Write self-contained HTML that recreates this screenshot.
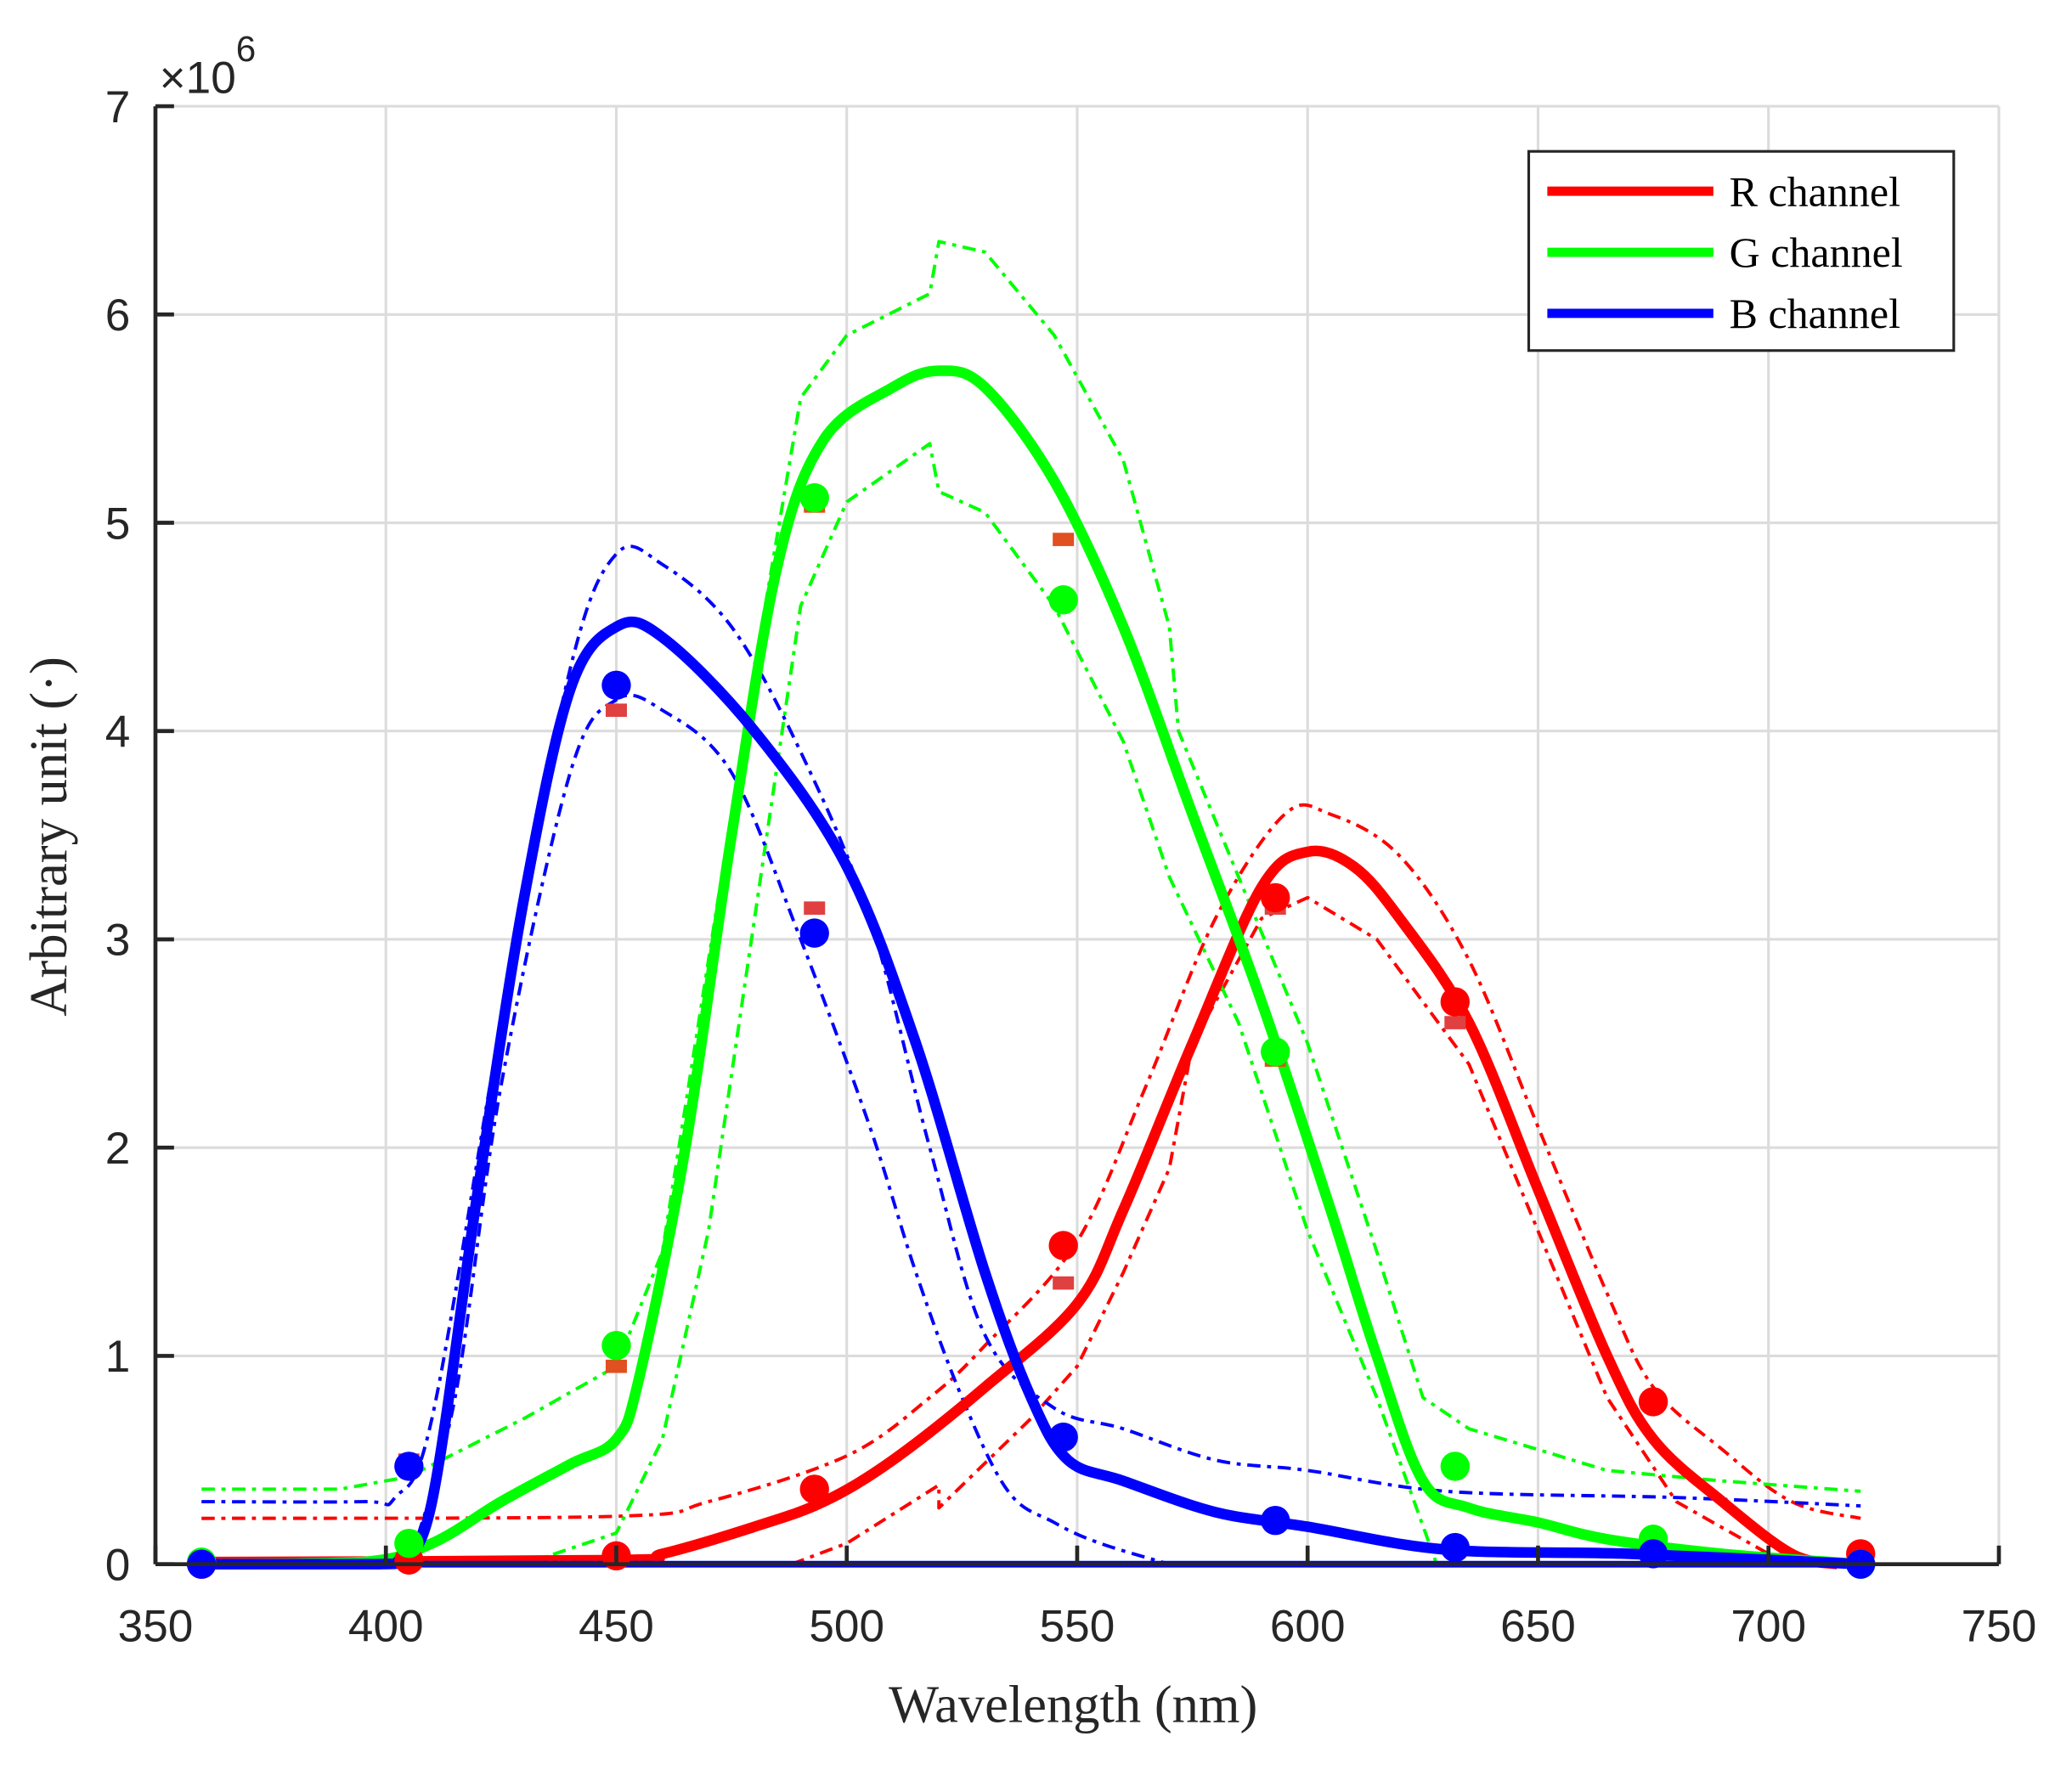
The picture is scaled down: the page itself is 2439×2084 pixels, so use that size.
<!DOCTYPE html>
<html><head><meta charset="utf-8"><style>
html,body{margin:0;padding:0;background:#fff}
svg{display:block}
</style></head><body>
<svg id="s" width="2439" height="2084" viewBox="0 0 1560 1333" xmlns="http://www.w3.org/2000/svg">
<rect width="1560" height="1333" fill="#fff"/>
<g id="grid" stroke="#dcdcdc" stroke-width="2"></g>
<g id="plot" fill="none" stroke-linejoin="round" stroke-linecap="butt"></g>
<g id="axes" stroke="#262626" stroke-width="3" fill="none">
<path d="M117,1178 H1505 M117,80 V1178"/>
</g>
<g id="ticks" stroke="#262626" stroke-width="3"></g>
<g id="labels" font-family="Liberation Sans, sans-serif" font-size="34" fill="#262626"></g>
<text x="120" y="70" font-family="Liberation Sans, sans-serif" font-size="34" fill="#262626">×10<tspan font-size="27" dy="-24">6</tspan></text>
<text x="808" y="1297" text-anchor="middle" font-family="Liberation Serif, serif" font-size="40" fill="#262626">Wavelength (nm)</text>
<text transform="translate(50,630) rotate(-90)" text-anchor="middle" font-family="Liberation Serif, serif" font-size="40" fill="#262626">Arbitrary unit (·)</text>
<g font-family="Liberation Serif, serif" font-size="32" fill="#000">
<rect x="1151" y="114" width="320" height="150" fill="#fff" stroke="#262626" stroke-width="2"/>
<path d="M1165,144 H1290" stroke="#f00" stroke-width="7"/>
<path d="M1165,190 H1290" stroke="#0f0" stroke-width="7"/>
<path d="M1165,236 H1290" stroke="#00f" stroke-width="7"/>
<text x="1302" y="155">R channel</text>
<text x="1302" y="201">G channel</text>
<text x="1302" y="247">B channel</text>
</g>
</svg>
<script>
const NS="http://www.w3.org/2000/svg";
const X=w=>117+(w-350)*3.47, Y=v=>1178-v*156.86;
function el(p,t,a){const e=document.createElementNS(NS,t);for(const k in a)e.setAttribute(k,a[k]);p.appendChild(e);return e;}
const grid=document.getElementById('grid'),ticks=document.getElementById('ticks'),labels=document.getElementById('labels'),plot=document.getElementById('plot');
for(let w=400;w<=750;w+=50){el(grid,'path',{d:`M${X(w)},80V1178`});}
for(let v=1;v<=7;v++){el(grid,'path',{d:`M117,${Y(v)}H1505`});}
for(let w=350;w<=750;w+=50){el(ticks,'path',{d:`M${X(w)},1178v-14`});const t=el(labels,'text',{x:X(w),y:1236,'text-anchor':'middle'});t.textContent=w;}
for(let v=0;v<=7;v++){el(ticks,'path',{d:`M117,${Y(v)}h14`});const t=el(labels,'text',{x:98,y:Y(v)+12,'text-anchor':'end'});t.textContent=v;}
function path(pts,col,w,dash,smooth){
  const q=pts.map(p=>[X(p[0]),Y(p[1])]);
  let d='M'+q[0][0].toFixed(1)+','+q[0][1].toFixed(1);
  for(let i=1;i<q.length;i++){
    if(smooth){const p0=q[Math.max(i-2,0)],p1=q[i-1],p2=q[i],p3=q[Math.min(i+1,q.length-1)];
      let c1=[p1[0]+(p2[0]-p0[0])/6,p1[1]+(p2[1]-p0[1])/6],c2=[p2[0]-(p3[0]-p1[0])/6,p2[1]-(p3[1]-p1[1])/6];
      c1[1]=Math.min(c1[1],1178);c2[1]=Math.min(c2[1],1178);
      d+=`C${c1[0].toFixed(1)},${c1[1].toFixed(1)} ${c2[0].toFixed(1)},${c2[1].toFixed(1)} ${p2[0].toFixed(1)},${p2[1].toFixed(1)}`;}
    else d+='L'+q[i][0].toFixed(1)+','+q[i][1].toFixed(1);
  }
  const a={d:d,stroke:col,'stroke-width':w};if(dash)a['stroke-dasharray']=dash;el(plot,'path',a);}
const P=s=>s.trim().split(/\s+/).map(x=>x.split(':').map(Number));
const DD="10,5,3,5";
path(P("360:0.22 450:0.23 470:0.3 500:0.52 518:0.8 530:1.05 550:1.55 565:2.3 580:3.1 595:3.6 605:3.6 620:3.4 635:2.9 650:2.1 665:1.3 675:0.85 690:0.55 705:0.3 720:0.22"),'#f00',2.5,DD,1);
path(P("488:0 500:0.1 520:0.38 520:0.27 540:0.7 550:0.95 560:1.4 570:1.9 575:2.5 590:3.1 600:3.2 615:3.0 635:2.4 650:1.6 665:0.8 680:0.3 700:0.05 710:0"),'#f00',2.5,DD,0);
path(P("360:0.36 390:0.36 405:0.42 430:0.7 450:0.95 460:1.5 470:2.9 480:4.3 490:5.6 500:5.9 518:6.1 520:6.35 530:6.3 545:5.9 560:5.3 570:4.5 572:4.0 585:3.3 600:2.5 615:1.5 625:0.8 635:0.65 650:0.55 665:0.45 690:0.4 720:0.35"),'#0f0',2.5,DD,0);
path(P("430:0 450:0.15 460:0.6 470:1.6 480:3.1 490:4.6 500:5.1 518:5.38 520:5.15 530:5.05 545:4.6 560:3.95 570:3.3 585:2.6 600:1.6 615:0.8 628:0"),'#0f0',2.5,DD,0);
path(P("360:0.3 395:0.3 402:0.32 410:0.7 425:2.6 440:4.3 450:4.85 460:4.8 475:4.5 490:3.9 505:3.1 518:2.0 530:1.1 545:0.75 560:0.65 580:0.5 600:0.45 630:0.35 680:0.32 720:0.28"),'#00f',2.5,DD,1);
path(P("405:0 415:0.8 425:2.3 440:3.8 450:4.15 460:4.1 475:3.8 490:3.0 505:2.1 515:1.4 525:0.8 535:0.35 545:0.2 555:0.1 570:0"),'#00f',2.5,DD,1);
path(P("360:0.01 450:0.02 460:0.05 480:0.18 495:0.3 510:0.5 530:0.85 550:1.25 560:1.7 575:2.5 590:3.25 600:3.42 610:3.35 620:3.1 635:2.6 650:1.8 665:1.0 675:0.6 690:0.3 705:0.05 715:0"),'#f00',8,null,1);
path(P("360:0 395:0.01 410:0.1 425:0.3 440:0.48 450:0.6 455:0.9 465:2.0 475:3.5 485:4.8 495:5.4 510:5.65 520:5.73 530:5.65 545:5.2 560:4.5 575:3.6 590:2.7 605:1.7 615:1.0 625:0.4 635:0.27 650:0.2 665:0.12 690:0.05 720:0"),'#0f0',8,null,1);
path(P("360:0 720:0"),'#00f',5,null,0);
path(P("360:0 398:0 403:0.02 410:0.3 420:1.8 430:3.2 440:4.2 450:4.5 460:4.45 480:4.0 500:3.35 515:2.5 530:1.4 540:0.8 548:0.5 560:0.4 580:0.25 600:0.18 630:0.07 670:0.05 720:0"),'#00f',8,null,1);
function marks(s,col){P(s).forEach(p=>{el(plot,'rect',{x:X(p[0])-8,y:Y(p[1])-5,width:16,height:10,fill:col,stroke:'none'});});}
function dots(s,col){P(s).forEach(p=>{el(plot,'circle',{cx:X(p[0]),cy:Y(p[1]),r:11,fill:col,stroke:'none'});});}
marks("493:3.15 547:1.35 593:3.15 632:2.6 450:4.1 405:0.5","#e04040");
marks("493:5.08 547:4.92 593:2.42 450:0.95","#e05020");
dots("360:0 405:0.02 450:0.04 493:0.36 547:1.53 593:3.2 632:2.7 675:0.78 720:0.05","#f00");
dots("360:0.01 405:0.1 450:1.05 493:5.12 547:4.63 593:2.46 632:0.47 675:0.12 720:0","#0f0");
dots("360:0 405:0.47 450:4.22 493:3.03 547:0.61 593:0.21 632:0.08 675:0.05 720:0","#00f");
</script>
</body></html>
